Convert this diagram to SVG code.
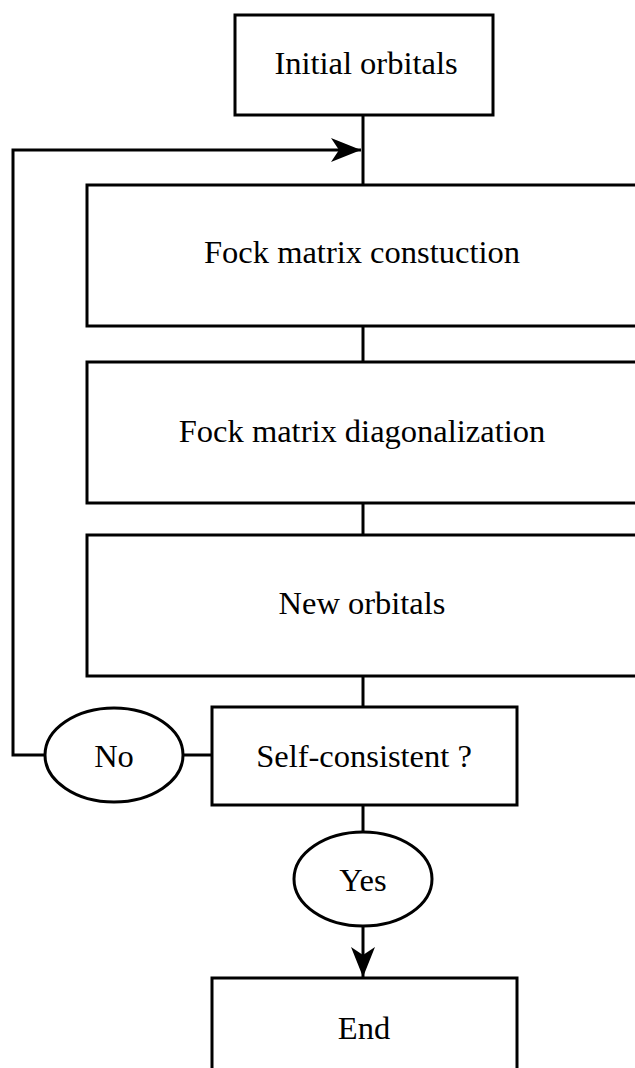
<svg xmlns="http://www.w3.org/2000/svg" width="635" height="1068" viewBox="0 0 635 1068">
<defs>
<style>
.box{fill:#fff;stroke:#000;stroke-width:3}
.ell{fill:#fff;stroke:#000;stroke-width:3}
.ln{fill:none;stroke:#000;stroke-width:3}
text{font-family:"Liberation Serif","Times New Roman",serif;font-size:32.5px;fill:#000;text-anchor:middle}
</style>
<marker id="ahd" markerWidth="30" markerHeight="24" viewBox="0 0 30 24" refX="30" refY="12" orient="auto" markerUnits="userSpaceOnUse">
<path d="M0,0 L30,12 L0,24 L8,12 Z" fill="#000"/>
</marker>
</defs>
<g id="connectors">
<path class="ln" d="M363,115 V185"/>
<path class="ln" d="M363,326 V362"/>
<path class="ln" d="M363,503 V535"/>
<path class="ln" d="M363,676 V707"/>
<path class="ln" d="M212,755 H183"/>
<path class="ln" d="M45,755 H13 V150 H361" marker-end="url(#ahd)"/>
<path class="ln" d="M363,805 V832"/>
<path class="ln" d="M363,927 V977" marker-end="url(#ahd)"/>
</g>
<g id="initial"><rect class="box" x="235" y="15" width="258" height="100"/><text x="366" y="74">Initial orbitals</text></g>
<g id="fock-construction"><rect class="box" x="87" y="185" width="560" height="141"/><text x="362" y="263">Fock matrix constuction</text></g>
<g id="fock-diag"><rect class="box" x="87" y="362" width="560" height="141"/><text x="362" y="442">Fock matrix diagonalization</text></g>
<g id="new-orbitals"><rect class="box" x="87" y="535" width="560" height="141"/><text x="362" y="614">New orbitals</text></g>
<g id="self-consistent"><rect class="box" x="212" y="707" width="305" height="98"/><text x="364" y="767">Self-consistent ?</text></g>
<g id="no"><ellipse class="ell" cx="114" cy="755" rx="69" ry="47"/><text x="114" y="767">No</text></g>
<g id="yes"><ellipse class="ell" cx="363" cy="879" rx="69" ry="47"/><text x="363" y="891">Yes</text></g>
<g id="end"><rect class="box" x="212" y="978" width="305" height="110"/><text x="364" y="1039">End</text></g>
</svg>
